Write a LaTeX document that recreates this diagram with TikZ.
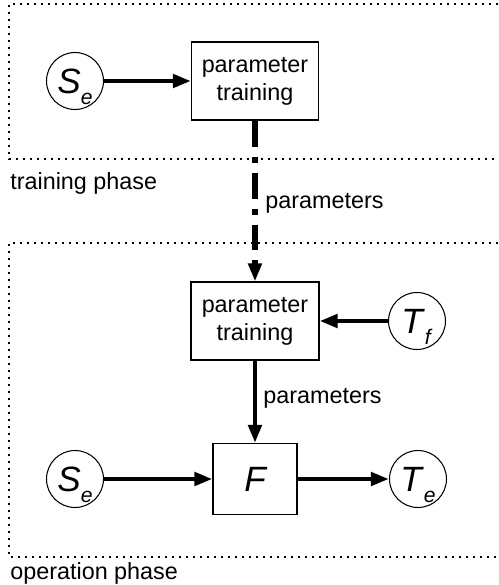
\documentclass[tikz,border=0pt]{standalone}
\usepackage{fontspec}
\setmainfont{Liberation Sans}
\usetikzlibrary{arrows.meta}
\newcommand{\sigsym}[2]{\textit{#1}\raisebox{-0.22cm}[0pt][0pt]{\fontsize{12}{14}\selectfont\textit{#2}}}

\begin{document}
\begin{tikzpicture}[x=0.02cm,y=-0.02cm,
  font=\fontsize{13.3}{15.8}\selectfont,
  block/.style={draw,line width=0.6pt,align=center,inner sep=0pt},
  signal/.style={draw,circle,line width=0.6pt,minimum size=1.14cm,inner sep=0pt,font=\fontsize{20}{24}\selectfont},
  flow/.style={line width=2.7pt,-{Triangle[length=0.36cm,width=0.26cm]}},
  phase/.style={line width=0.6pt,dash pattern=on 0.04cm off 0.1cm}]
\useasboundingbox (0,0) rectangle (498,585);

% phases
\draw[phase] (498,4) -- (9,4) -- (9,159) -- (498,159);
\draw[phase] (498,243) -- (9,243) -- (9,557) -- (498,557);
\node[anchor=west,inner sep=0pt] (lbltrain) at (10,183) {training phase};
\node[anchor=west,inner sep=0pt] (lblop) at (10,573) {operation phase};

% training phase
\node[signal] (se1) at (75,81) {\sigsym{S}{e}};
\node[block,minimum width=2.54cm,minimum height=1.56cm] (train1) at (255,81) {parameter\\training};

% operation phase
\node[block,minimum width=2.56cm,minimum height=1.56cm] (train2) at (255,321) {parameter\\training};
\node[signal] (tf) at (417,321) {\sigsym{T}{f}};
\node[block,minimum width=1.68cm,minimum height=1.42cm,font=\fontsize{20}{24}\selectfont\itshape] (f) at (255,479) {F};
\node[signal] (se2) at (75,479) {\sigsym{S}{e}};
\node[signal] (te) at (418,479) {\sigsym{T}{e}};

\node[anchor=west,inner sep=0pt] (lblpar1) at (265,203) {parameters};
\node[anchor=west,inner sep=0pt] (lblpar2) at (263,398) {parameters};

\draw[flow] (se1) -- (train1);
\draw[flow,line width=3.2pt,dash pattern=on 0.52cm off 0.2cm on 0.12cm off 0.2cm] (train1) -- (train2);
\draw[flow] (tf) -- (train2);
\draw[flow] (train2) -- (f);
\draw[flow] (se2) -- (f);
\draw[flow] (f) -- (te);
\end{tikzpicture}
\end{document}
